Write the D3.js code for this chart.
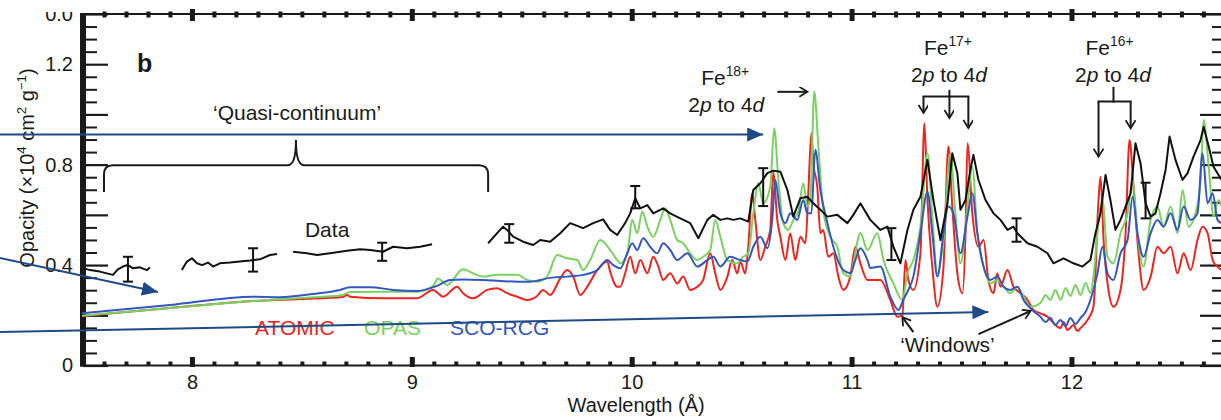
<!DOCTYPE html>
<html><head><meta charset="utf-8">
<script src="https://cdn.jsdelivr.net/npm/d3@7"></script>
<style>
html,body{margin:0;padding:0;background:#fff;}
svg{display:block;font-family:"Liberation Sans",Arial,Helvetica,sans-serif;}
</style></head><body>
<svg id="chart" width="1221" height="420"></svg>
<script>
// ---------------- data ----------------
const wavelengthDomain = [7.5, 12.68];
const opacityDomain = [0, 1.4];
const xMajorTicks = [8, 9, 10, 11, 12];
const yLabelTicks = [0, 0.4, 0.8, 1.2];

const atomic = [[7.50,0.197],[7.90,0.229],[8.278,0.257],[8.491,0.265],[8.687,0.273],[8.705,0.281],[8.719,0.274],[8.869,0.268],[9.024,0.268],[9.097,0.301],[9.142,0.274],[9.206,0.314],[9.233,0.288],[9.279,0.268],[9.342,0.301],[9.388,0.308],[9.433,0.288],[9.479,0.274],[9.524,0.261],[9.570,0.277],[9.597,0.301],[9.629,0.281],[9.675,0.347],[9.706,0.380],[9.734,0.354],[9.766,0.281],[9.798,0.314],[9.843,0.380],[9.889,0.414],[9.902,0.374],[9.934,0.314],[9.948,0.314],[9.970,0.367],[9.993,0.433],[10.016,0.367],[10.039,0.420],[10.071,0.367],[10.098,0.433],[10.121,0.394],[10.143,0.341],[10.175,0.367],[10.207,0.327],[10.234,0.354],[10.266,0.301],[10.298,0.314],[10.325,0.341],[10.357,0.447],[10.380,0.367],[10.403,0.301],[10.435,0.354],[10.457,0.420],[10.480,0.367],[10.494,0.414],[10.516,0.367],[10.530,0.473],[10.548,0.686],[10.562,0.580],[10.585,0.420],[10.607,0.473],[10.630,0.540],[10.644,0.772],[10.662,0.580],[10.676,0.513],[10.699,0.420],[10.721,0.527],[10.744,0.420],[10.767,0.513],[10.790,0.487],[10.803,0.686],[10.817,0.925],[10.826,0.806],[10.844,0.712],[10.858,0.527],[10.871,0.540],[10.894,0.433],[10.917,0.447],[10.940,0.354],[10.962,0.301],[10.994,0.354],[11.017,0.473],[11.040,0.407],[11.072,0.341],[11.131,0.341],[11.176,0.261],[11.208,0.194],[11.231,0.201],[11.245,0.420],[11.258,0.341],[11.281,0.301],[11.313,0.447],[11.331,0.965],[11.345,0.659],[11.367,0.394],[11.390,0.234],[11.418,0.394],[11.440,0.872],[11.458,0.633],[11.481,0.367],[11.504,0.288],[11.518,0.527],[11.527,0.885],[11.549,0.606],[11.577,0.473],[11.600,0.500],[11.622,0.341],[11.645,0.288],[11.663,0.367],[11.677,0.314],[11.709,0.380],[11.736,0.314],[11.768,0.288],[11.800,0.261],[11.827,0.221],[11.859,0.208],[11.891,0.194],[11.918,0.169],[11.950,0.149],[11.964,0.173],[11.982,0.141],[12.009,0.161],[12.027,0.137],[12.041,0.149],[12.073,0.181],[12.100,0.234],[12.123,0.659],[12.132,0.752],[12.146,0.500],[12.168,0.301],[12.191,0.234],[12.223,0.301],[12.246,0.527],[12.264,0.898],[12.282,0.712],[12.305,0.447],[12.328,0.301],[12.360,0.354],[12.391,0.473],[12.419,0.447],[12.451,0.473],[12.482,0.367],[12.510,0.447],[12.542,0.380],[12.573,0.500],[12.596,0.553],[12.619,0.527],[12.642,0.420],[12.664,0.394],[12.683,0.380]];

const opas = [[7.50,0.198],[7.90,0.229],[8.278,0.257],[8.491,0.269],[8.687,0.281],[8.719,0.293],[8.869,0.294],[9.024,0.294],[9.097,0.317],[9.119,0.347],[9.160,0.321],[9.233,0.383],[9.279,0.367],[9.324,0.354],[9.388,0.361],[9.479,0.361],[9.524,0.341],[9.570,0.334],[9.615,0.354],[9.661,0.440],[9.706,0.427],[9.752,0.420],[9.779,0.380],[9.811,0.420],[9.857,0.500],[9.902,0.460],[9.934,0.420],[9.948,0.407],[9.980,0.447],[10.002,0.580],[10.025,0.527],[10.048,0.613],[10.071,0.553],[10.098,0.513],[10.130,0.580],[10.152,0.626],[10.175,0.580],[10.207,0.500],[10.234,0.487],[10.266,0.447],[10.298,0.420],[10.325,0.433],[10.357,0.460],[10.380,0.580],[10.403,0.513],[10.435,0.420],[10.480,0.407],[10.507,0.433],[10.530,0.447],[10.553,0.606],[10.576,0.726],[10.598,0.646],[10.630,0.712],[10.648,0.945],[10.667,0.739],[10.689,0.567],[10.712,0.540],[10.735,0.580],[10.758,0.613],[10.780,0.726],[10.799,0.633],[10.812,0.659],[10.830,1.091],[10.849,0.872],[10.871,0.620],[10.903,0.513],[10.935,0.473],[10.962,0.367],[10.994,0.354],[11.008,0.407],[11.040,0.528],[11.072,0.460],[11.117,0.527],[11.145,0.420],[11.190,0.327],[11.231,0.261],[11.254,0.367],[11.281,0.420],[11.313,0.553],[11.345,0.845],[11.367,0.593],[11.390,0.367],[11.418,0.500],[11.449,0.845],[11.472,0.606],[11.495,0.407],[11.527,0.633],[11.549,0.792],[11.572,0.527],[11.600,0.394],[11.631,0.327],[11.663,0.341],[11.691,0.314],[11.722,0.288],[11.754,0.314],[11.782,0.274],[11.813,0.234],[11.859,0.249],[11.882,0.281],[11.904,0.261],[11.927,0.301],[11.950,0.261],[11.973,0.309],[11.995,0.277],[12.018,0.321],[12.041,0.281],[12.064,0.329],[12.086,0.289],[12.100,0.354],[12.118,0.527],[12.141,0.659],[12.164,0.433],[12.191,0.407],[12.223,0.527],[12.255,0.606],[12.278,0.739],[12.300,0.527],[12.328,0.394],[12.360,0.580],[12.391,0.633],[12.419,0.553],[12.451,0.633],[12.482,0.527],[12.505,0.699],[12.532,0.553],[12.564,0.606],[12.587,0.739],[12.601,0.978],[12.624,0.792],[12.646,0.593],[12.669,0.659],[12.683,0.633]];

const scoRcg = [[7.50,0.208],[7.90,0.241],[8.278,0.274],[8.40,0.272],[8.551,0.285],[8.673,0.301],[8.719,0.312],[8.81,0.312],[8.915,0.301],[9.024,0.297],[9.115,0.317],[9.174,0.341],[9.233,0.343],[9.324,0.341],[9.402,0.337],[9.479,0.334],[9.538,0.334],[9.629,0.349],[9.706,0.354],[9.779,0.361],[9.843,0.380],[9.889,0.420],[9.916,0.400],[9.948,0.387],[9.98,0.447],[10.002,0.487],[10.025,0.460],[10.052,0.507],[10.084,0.473],[10.116,0.447],[10.143,0.487],[10.175,0.460],[10.207,0.420],[10.253,0.447],[10.298,0.394],[10.344,0.420],[10.371,0.433],[10.403,0.394],[10.448,0.433],[10.494,0.420],[10.526,0.414],[10.553,0.473],[10.585,0.513],[10.617,0.467],[10.639,0.580],[10.653,0.739],[10.676,0.606],[10.699,0.567],[10.721,0.606],[10.753,0.580],[10.78,0.659],[10.799,0.606],[10.817,0.606],[10.835,0.859],[10.858,0.699],[10.89,0.567],[10.926,0.447],[10.962,0.380],[10.994,0.367],[11.017,0.420],[11.04,0.467],[11.072,0.420],[11.085,0.388],[11.131,0.394],[11.176,0.274],[11.213,0.221],[11.235,0.261],[11.258,0.301],[11.281,0.354],[11.313,0.527],[11.345,0.692],[11.367,0.527],[11.39,0.354],[11.418,0.527],[11.44,0.633],[11.463,0.606],[11.495,0.447],[11.527,0.593],[11.549,0.686],[11.572,0.527],[11.60,0.394],[11.631,0.341],[11.663,0.354],[11.691,0.314],[11.722,0.301],[11.754,0.314],[11.782,0.261],[11.813,0.228],[11.859,0.194],[11.882,0.173],[11.904,0.189],[11.927,0.161],[11.95,0.181],[11.973,0.157],[11.995,0.189],[12.018,0.165],[12.041,0.189],[12.064,0.213],[12.086,0.261],[12.118,0.367],[12.141,0.473],[12.164,0.367],[12.191,0.341],[12.223,0.447],[12.255,0.500],[12.278,0.672],[12.30,0.527],[12.328,0.433],[12.36,0.527],[12.391,0.580],[12.419,0.553],[12.451,0.606],[12.482,0.540],[12.51,0.633],[12.542,0.580],[12.573,0.606],[12.596,0.845],[12.619,0.646],[12.642,0.686],[12.664,0.580],[12.683,0.567]];

const dataSeg1 = [[7.509,0.387],[7.536,0.380],[7.581,0.374],[7.613,0.367],[7.641,0.361],[7.663,0.383],[7.686,0.394],[7.709,0.400],[7.732,0.387],[7.763,0.391],[7.795,0.380],[7.809,0.390]];
const dataSeg2 = [[7.954,0.380],[7.977,0.414],[8.000,0.427],[8.023,0.407],[8.046,0.400],[8.073,0.410],[8.096,0.394],[8.127,0.407],[8.173,0.410],[8.218,0.414],[8.264,0.418],[8.309,0.423],[8.355,0.440],[8.387,0.444]];
const dataSeg3 = [[8.460,0.453],[8.523,0.447],[8.569,0.440],[8.628,0.447],[8.705,0.457],[8.765,0.463],[8.810,0.460],[8.869,0.453],[8.915,0.473],[8.978,0.467],[9.038,0.473],[9.092,0.483]];
const dataSeg4 = [[9.347,0.487],[9.388,0.527],[9.415,0.553],[9.433,0.540],[9.461,0.513],[9.506,0.493],[9.552,0.480],[9.584,0.500],[9.629,0.493],[9.675,0.527],[9.720,0.567],[9.779,0.547],[9.825,0.567],[9.870,0.582],[9.902,0.540],[9.934,0.520],[9.970,0.567],[9.993,0.606],[10.016,0.666],[10.039,0.626],[10.071,0.639],[10.098,0.606],[10.143,0.626],[10.175,0.606],[10.221,0.586],[10.266,0.567],[10.303,0.507],[10.344,0.580],[10.371,0.600],[10.403,0.580],[10.435,0.586],[10.462,0.580],[10.494,0.586],[10.530,0.573],[10.553,0.699],[10.585,0.726],[10.617,0.766],[10.644,0.776],[10.676,0.772],[10.708,0.699],[10.735,0.593],[10.767,0.666],[10.799,0.672],[10.826,0.646],[10.858,0.620],[10.890,0.593],[10.935,0.600],[10.981,0.567],[11.008,0.600],[11.040,0.646],[11.085,0.580],[11.131,0.540],[11.163,0.553],[11.190,0.473],[11.222,0.407],[11.254,0.540],[11.281,0.620],[11.313,0.672],[11.345,0.819],[11.372,0.659],[11.404,0.500],[11.436,0.646],[11.458,0.845],[11.481,0.766],[11.495,0.620],[11.518,0.659],[11.540,0.779],[11.554,0.839],[11.577,0.739],[11.609,0.659],[11.645,0.606],[11.677,0.580],[11.709,0.540],[11.736,0.553],[11.754,0.527],[11.800,0.487],[11.845,0.473],[11.891,0.447],[11.918,0.407],[11.964,0.427],[12.009,0.407],[12.050,0.394],[12.086,0.420],[12.109,0.527],[12.132,0.606],[12.155,0.759],[12.177,0.659],[12.200,0.540],[12.223,0.580],[12.246,0.633],[12.269,0.686],[12.291,0.885],[12.314,0.806],[12.337,0.646],[12.360,0.593],[12.382,0.606],[12.405,0.686],[12.428,0.779],[12.446,0.912],[12.473,0.819],[12.505,0.739],[12.528,0.766],[12.555,0.832],[12.587,0.898],[12.601,0.951],[12.624,0.872],[12.646,0.792],[12.683,0.739]];
const dataSegments = [dataSeg1, dataSeg2, dataSeg3, dataSeg4];

// error bars: [wavelength, low, high]
const errorBars = [[7.709,0.334,0.433],[8.278,0.374,0.467],[8.865,0.417,0.489],[9.443,0.489,0.563],[10.016,0.626,0.715],[10.598,0.635,0.786],[11.181,0.420,0.547],[11.750,0.493,0.586],[12.337,0.586,0.728]];

// ---------------- setup ----------------
const svg = d3.select("#chart");
const x = d3.scaleLinear().domain(wavelengthDomain).range([82, 1221]);
const y = d3.scaleLinear().domain(opacityDomain).range([365.5, 14]);
const INK = "#1a1a1a";
const colors = {atomic:"#f0231e", opas:"#78d25f", sco:"#3456c0", data:"#111111", anno:"#1e4b86"};

// defs: markers
const defs = svg.append("defs");
defs.append("marker").attr("id","blueHead").attr("markerUnits","userSpaceOnUse")
  .attr("markerWidth",18).attr("markerHeight",16).attr("refX",16).attr("refY",7).attr("orient","auto")
  .append("path").attr("d","M0,0 L16,7 L0,14 Z").attr("fill",colors.anno);
defs.append("marker").attr("id","openHead").attr("markerUnits","userSpaceOnUse")
  .attr("markerWidth",14).attr("markerHeight",14).attr("refX",9).attr("refY",5).attr("orient","auto")
  .append("path").attr("d","M1,0 L9,5 L1,10").attr("fill","none").attr("stroke",INK).attr("stroke-width",1.8);
defs.append("clipPath").attr("id","topClip").append("rect").attr("x",0).attr("y",12).attr("width",80).attr("height",30);

// ---------------- axes ----------------
const minorX = d3.range(76, 127).filter(i => i % 10 !== 0).map(i => i / 10);
const yAll = d3.range(0, 29).map(i => +(i * 0.05).toFixed(2));
const yMajor = yAll.filter((d, i) => i % 4 === 0);
const yMinor = yAll.filter((d, i) => i % 4 !== 0);

function styleTicks(g, w) {
  g.select(".domain").remove();
  g.selectAll(".tick line").attr("stroke", INK).attr("stroke-width", w);
}
// bottom
svg.append("g").attr("transform", `translate(0,${y(0) + 0.5})`)
  .call(d3.axisBottom(x).tickValues(minorX).tickSize(-4.5).tickSizeOuter(0).tickFormat(""))
  .call(g => styleTicks(g, 4));
svg.append("g").attr("transform", `translate(0,${y(0) + 1.5})`)
  .call(d3.axisBottom(x).tickValues(xMajorTicks).tickSize(-10).tickSizeOuter(0).tickPadding(8).tickFormat(d3.format("d")))
  .call(g => styleTicks(g, 5))
  .call(g => g.selectAll("text").attr("font-size", 20).attr("fill", INK).attr("font-family", "Liberation Sans, Arial, sans-serif"));
svg.append("line").attr("x1", 80).attr("x2", 1221).attr("y1", y(0)).attr("y2", y(0)).attr("stroke", INK).attr("stroke-width", 2.2);
// top
svg.append("g").attr("transform", `translate(0,${y(1.4) - 2.5})`)
  .call(d3.axisTop(x).tickValues(minorX).tickSize(-6).tickSizeOuter(0).tickFormat(""))
  .call(g => styleTicks(g, 4));
svg.append("g").attr("transform", `translate(0,${y(1.4) - 5})`)
  .call(d3.axisTop(x).tickValues(xMajorTicks).tickSize(-12).tickSizeOuter(0).tickFormat(""))
  .call(g => styleTicks(g, 5));
svg.append("line").attr("x1", 80).attr("x2", 1221).attr("y1", y(1.4)).attr("y2", y(1.4)).attr("stroke", INK).attr("stroke-width", 2.2);
// left
const xLeft = x(wavelengthDomain[0]) + 1;
svg.append("g").attr("transform", `translate(${xLeft},0)`)
  .call(d3.axisLeft(y).tickValues(yMinor).tickSize(-14).tickSizeOuter(0).tickFormat(""))
  .call(g => styleTicks(g, 2));
svg.append("g").attr("transform", `translate(${xLeft},0)`)
  .call(d3.axisLeft(y).tickValues(yMajor).tickSize(-25).tickSizeOuter(0).tickFormat(""))
  .call(g => styleTicks(g, 2.2));
svg.append("g").attr("transform", `translate(${xLeft},0)`)
  .call(d3.axisLeft(y).tickValues(yLabelTicks).tickSize(0).tickPadding(10).tickFormat(d => d === 0 ? "0" : d3.format(".1f")(d)))
  .call(g => g.select(".domain").remove())
  .call(g => g.selectAll("text").attr("font-size", 20).attr("fill", INK).attr("font-family", "Liberation Sans, Arial, sans-serif"));
svg.append("line").attr("x1", xLeft).attr("x2", xLeft).attr("y1", y(1.4) - 1).attr("y2", y(0) + 1).attr("stroke", INK).attr("stroke-width", 6);
// cropped top label
svg.append("text").attr("x", xLeft - 10).attr("y", 21).attr("text-anchor", "end").attr("font-size", 20)
  .attr("fill", INK).attr("clip-path", "url(#topClip)").text("0.0");
// right
svg.append("g").attr("transform", `translate(1222,0)`)
  .call(d3.axisRight(y).tickValues(yMinor).tickSize(-10).tickSizeOuter(0).tickFormat(""))
  .call(g => styleTicks(g, 2));
svg.append("g").attr("transform", `translate(1222,0)`)
  .call(d3.axisRight(y).tickValues(yMajor).tickSize(-22).tickSizeOuter(0).tickFormat(""))
  .call(g => styleTicks(g, 2.2));

// axis titles
function richText(parent, px, py, parts, size, opts = {}) {
  const t = parent.append("text").attr("x", px).attr("y", py).attr("font-size", size)
    .attr("text-anchor", opts.anchor || "start").attr("fill", opts.fill || INK);
  if (opts.transform) t.attr("transform", opts.transform);
  let shift = 0;
  parts.forEach(p => {
    const ts = t.append("tspan").text(p.t);
    const want = p.sup ? -size * 0.42 : 0;
    if (want !== shift) { ts.attr("dy", want - shift); shift = want; }
    if (p.sup) ts.attr("font-size", size * 0.66);
    if (p.it) ts.attr("font-style", "italic");
  });
  return t;
}
svg.append("text").attr("x", x(10.02)).attr("y", 412).attr("text-anchor", "middle")
  .attr("font-size", 20).attr("fill", INK).text("Wavelength (Å)");
richText(svg, 0, 0, [{t:"Opacity (×10"},{t:"4",sup:true},{t:" cm"},{t:"2",sup:true},{t:" g"},{t:"−1",sup:true},{t:")"}], 20,
  {anchor:"middle", transform:"translate(34,168) rotate(-90)"});

// ---------------- series ----------------
const line = d3.line().x(d => x(d[0])).y(d => y(d[1])).curve(d3.curveMonotoneX);
const dataLine = d3.line().x(d => x(d[0])).y(d => y(d[1])).curve(d3.curveLinear);
const plot = svg.append("g");
[[atomic, colors.atomic], [opas, colors.opas], [scoRcg, colors.sco]].forEach(([s, c]) => {
  plot.append("path").datum(s).attr("d", line).attr("fill", "none").attr("stroke", c)
    .attr("stroke-width", 2).attr("stroke-linejoin", "round");
});
dataSegments.forEach(s => {
  plot.append("path").datum(s).attr("d", dataLine).attr("fill", "none").attr("stroke", colors.data)
    .attr("stroke-width", 2).attr("stroke-linejoin", "round");
});
const eb = plot.selectAll("g.eb").data(errorBars).join("g").attr("stroke", colors.data).attr("stroke-width", 2);
eb.append("line").attr("x1", d => x(d[0])).attr("x2", d => x(d[0])).attr("y1", d => y(d[1])).attr("y2", d => y(d[2]));
eb.append("line").attr("x1", d => x(d[0]) - 5).attr("x2", d => x(d[0]) + 5).attr("y1", d => y(d[1])).attr("y2", d => y(d[1]));
eb.append("line").attr("x1", d => x(d[0]) - 5).attr("x2", d => x(d[0]) + 5).attr("y1", d => y(d[2])).attr("y2", d => y(d[2]));

// ---------------- annotations ----------------
const ann = svg.append("g");
ann.append("text").attr("x", x(7.75)).attr("y", y(1.169)).attr("font-size", 25).attr("font-weight", "bold").attr("fill", INK).text("b");
const br = {x0: 7.6, xm: 8.473, x1: 9.347, yEnd: 0.691, yBar: 0.798, yTip: 0.898};
const bx0 = x(br.x0), bxm = x(br.xm), bx1 = x(br.x1), bye = y(br.yEnd), byb = y(br.yBar), byt = y(br.yTip);
ann.append("path").attr("fill", "none").attr("stroke", INK).attr("stroke-width", 2)
  .attr("d", `M${bx0},${bye} L${bx0},${byb + 9} Q${bx0},${byb} ${bx0 + 9},${byb} L${bxm - 8},${byb} Q${bxm},${byb} ${bxm},${byt}` +
             ` Q${bxm},${byb} ${bxm + 8},${byb} L${bx1 - 9},${byb} Q${bx1},${byb} ${bx1},${byb + 9} L${bx1},${bye}`);
ann.append("text").attr("x", x(8.478)).attr("y", y(0.978)).attr("text-anchor", "middle").attr("font-size", 21).attr("fill", INK).text("‘Quasi-continuum’");
ann.append("text").attr("x", x(8.514)).attr("y", y(0.512)).attr("font-size", 21).attr("fill", INK).text("Data");
ann.append("text").attr("x", x(8.287)).attr("y", y(0.122)).attr("font-size", 21).attr("fill", colors.atomic).text("ATOMIC");
ann.append("text").attr("x", x(8.783)).attr("y", y(0.122)).attr("font-size", 21).attr("fill", colors.opas).text("OPAS");
ann.append("text").attr("x", x(9.174)).attr("y", y(0.122)).attr("font-size", 21).attr("fill", colors.sco).text("SCO-RCG");
richText(ann, x(10.425), y(1.118), [{t:"Fe"},{t:"18+",sup:true}], 21, {anchor:"middle"});
richText(ann, x(10.43), y(1.010), [{t:"2"},{t:"p",it:true},{t:" to 4"},{t:"d",it:true}], 21, {anchor:"middle"});
richText(ann, x(11.438), y(1.237), [{t:"Fe"},{t:"17+",sup:true}], 21, {anchor:"middle"});
richText(ann, x(11.443), y(1.129), [{t:"2"},{t:"p",it:true},{t:" to 4"},{t:"d",it:true}], 21, {anchor:"middle"});
richText(ann, x(12.173), y(1.237), [{t:"Fe"},{t:"16+",sup:true}], 21, {anchor:"middle"});
richText(ann, x(12.189), y(1.129), [{t:"2"},{t:"p",it:true},{t:" to 4"},{t:"d",it:true}], 21, {anchor:"middle"});
ann.append("text").attr("x", x(11.436)).attr("y", y(0.054)).attr("text-anchor", "middle").attr("font-size", 21).attr("fill", INK).text("‘Windows’");

const blackArrows = [
  [10.662, 1.090, 10.799, 1.090],
  [11.327, 1.071, 11.327, 1.006],
  [11.445, 1.098, 11.445, 0.986],
  [11.531, 1.071, 11.531, 0.946],
  [12.123, 1.051, 12.123, 0.832],
  [12.269, 1.051, 12.269, 0.945],
  [11.281, 0.133, 11.231, 0.193],
  [11.577, 0.125, 11.814, 0.217]
];
const blackLines = [
  [11.327, 1.071, 11.531, 1.071],
  [12.191, 1.106, 12.191, 1.051],
  [12.123, 1.051, 12.269, 1.051]
];
blackLines.forEach(a => ann.append("line").attr("x1", x(a[0])).attr("y1", y(a[1])).attr("x2", x(a[2])).attr("y2", y(a[3]))
  .attr("stroke", INK).attr("stroke-width", 2).attr("stroke-linecap", "square"));
blackArrows.forEach(a => ann.append("line").attr("x1", x(a[0])).attr("y1", y(a[1])).attr("x2", x(a[2])).attr("y2", y(a[3]))
  .attr("stroke", INK).attr("stroke-width", 2).attr("marker-end", "url(#openHead)"));

const blueArrows = [
  [7.126, 0.920, 10.598, 0.920],
  [7.126, 0.428, 7.845, 0.293],
  [7.126, 0.133, 11.622, 0.213]
];
blueArrows.forEach(a => ann.append("line").attr("x1", x(a[0])).attr("y1", y(a[1])).attr("x2", x(a[2])).attr("y2", y(a[3]))
  .attr("stroke", colors.anno).attr("stroke-width", 2).attr("marker-end", "url(#blueHead)"));
</script>
</body></html>
